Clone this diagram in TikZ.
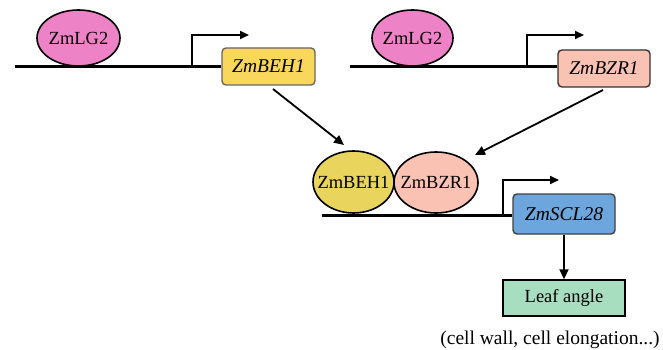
\documentclass[tikz,border=0pt]{standalone}
\usepackage{fontspec}
\setmainfont{Liberation Serif}
\usetikzlibrary{arrows.meta,shapes.geometric}
\definecolor{lgpink}{HTML}{EE82C6}
\definecolor{behyel}{HTML}{F9D65C}
\definecolor{behell}{HTML}{E9D45E}
\definecolor{bzrpink}{HTML}{F9C2B3}
\definecolor{sclblue}{HTML}{6CA6DD}
\definecolor{leafgreen}{HTML}{A8DEC0}
\tikzset{
  dna/.style={line width=3pt},
  prom/.style={line width=1.8pt,-{Triangle[length=9pt,width=8pt]}},
  conn/.style={line width=1.8pt,-{Triangle[length=10pt,width=9pt]}},
  prot/.style={ellipse,draw=black,line width=1.6pt,inner sep=0pt,
    label={[font=\fontsize{18.5}{22}\selectfont,inner sep=0pt]center:#1}},
  gene/.style={rectangle,rounded corners=4pt,line width=1.4pt,inner sep=0pt,font=\fontsize{19.5}{22}\selectfont\itshape},
}
\begin{document}
\begin{tikzpicture}[x=1pt,y=-1pt]
\useasboundingbox (0,0) rectangle (663,350);
% left panel
\node[gene,draw=gray!80!black,fill=behyel,minimum width=93pt,minimum height=37pt] (behbox) at (268.5,66.5) {ZmBEH1};
\coordinate (l1) at (15,67);
\draw[dna] (l1) -- (behbox.west |- l1);
\coordinate (p1) at (192,67);
\coordinate (p1t) at (249,35);
\draw[prom] (p1) -- (p1 |- p1t) -- (p1t);
\node[prot=ZmLG2,fill=lgpink,minimum width=83pt,minimum height=56pt] (lg1) at (78.5,38) {};
% right panel
\node[gene,draw=black!80,fill=bzrpink,minimum width=92pt,minimum height=37pt] (bzrbox) at (604,68.5) {ZmBZR1};
\coordinate (l2) at (350,67);
\draw[dna] (l2) -- (bzrbox.west |- l2);
\coordinate (p2) at (527,67);
\coordinate (p2t) at (584,35);
\draw[prom] (p2) -- (p2 |- p2t) -- (p2t);
\node[prot=ZmLG2,fill=lgpink,minimum width=81pt,minimum height=56pt] (lg2) at (412.5,38) {};
% middle
\node[gene,draw=black!75,fill=sclblue,minimum width=102pt,minimum height=40pt] (sclbox) at (564,214) {ZmSCL28};
\coordinate (l3) at (322,215);
\draw[dna] (l3) -- (sclbox.west |- l3);
\coordinate (p3) at (503,215);
\coordinate (p3t) at (559,180);
\draw[prom] (p3) -- (p3 |- p3t) -- (p3t);
\node[prot=ZmBEH1,fill=behell,minimum width=81pt,minimum height=62pt] (behp) at (353.5,182) {};
\node[prot=ZmBZR1,fill=bzrpink,minimum width=84pt,minimum height=61pt] (bzrp) at (436,182.5) {};
% arrows
\coordinate (a1s) at (273,89);
\coordinate (a1e) at (344,145);
\draw[conn] (a1s) -- (a1e);
\coordinate (a2s) at (603,90);
\coordinate (a2e) at (475,155);
\draw[conn] (a2s) -- (a2e);
\node[rectangle,draw=black,line width=1.4pt,fill=leafgreen,minimum width=122pt,minimum height=36pt,inner sep=0pt,font=\fontsize{18.5}{22}\selectfont] (leaf) at (564,298) {Leaf angle};
\draw[conn] (sclbox.south -| leaf.north) -- (leaf.north);
\node[font=\fontsize{19.5}{22}\selectfont] (note) at (550,340) {(cell wall, cell elongation...)};
\end{tikzpicture}
\end{document}
